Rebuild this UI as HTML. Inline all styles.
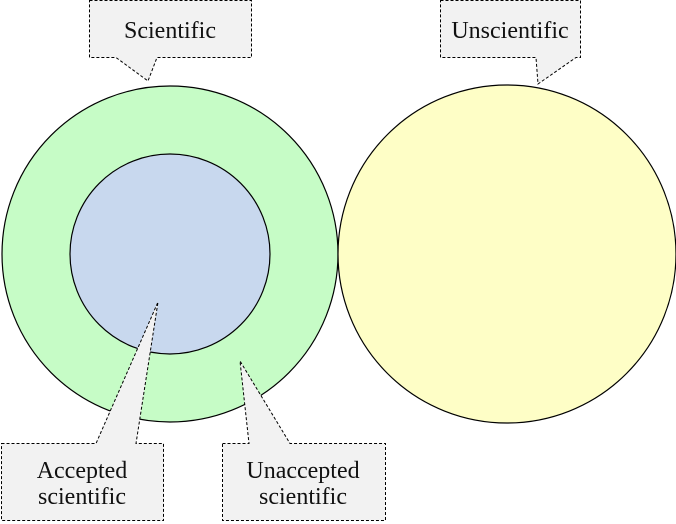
<!DOCTYPE html>
<html><head><meta charset="utf-8"><style>body{margin:0;background:#fff}svg{display:block}</style></head>
<body>
<svg width="676" height="524" xmlns="http://www.w3.org/2000/svg" font-family="Liberation Serif, serif" font-size="24" text-anchor="middle">
<circle cx="170" cy="254" r="168" fill="#c6fcc6" stroke="#000" stroke-width="1.2"/>
<circle cx="170" cy="254" r="100" fill="#c8d8ee" stroke="#000" stroke-width="1.2"/>
<circle cx="507" cy="254" r="169" fill="#fefec6" stroke="#000" stroke-width="1.2"/>
<g fill="#f2f2f2" stroke="#000" stroke-width="1" stroke-dasharray="3,2">
<path d="M89.5,0.5 H251.5 V57.5 H157 L148,81 L116,57.5 H89.5 Z"/>
<path d="M440.5,0.5 H580.5 V57.5 H576 L538,84 L536,57.5 H440.5 Z"/>
<path d="M1.5,443.5 H96 L158,302 L136,443.5 H163.5 V520.5 H1.5 Z"/>
<path d="M222.5,443.5 H249 L240,361 L290,443.5 H385.5 V520.5 H222.5 Z"/>
</g>
<g fill="#111">
<text x="170" y="38">Scientific</text>
<text x="510" y="38">Unscientific</text>
<text x="82" y="478">Accepted</text>
<text x="82" y="504">scientific</text>
<text x="303" y="478">Unaccepted</text>
<text x="303" y="504">scientific</text>
</g>
</svg>
</body></html>
